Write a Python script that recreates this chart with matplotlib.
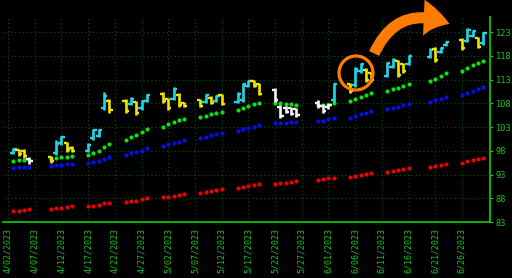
import matplotlib
matplotlib.use('Agg')
import matplotlib.pyplot as plt
import matplotlib.dates as mdates
import matplotlib.patches as mpatches
import numpy as np
import pandas as pd

# Trading days (weekdays minus market holidays)
holidays = ['2023-04-07', '2023-05-29', '2023-06-19']
days = pd.bdate_range('2023-04-03', '2023-06-30')
days = days[~days.isin(pd.to_datetime(holidays))]

# Daily price bars: open, high, low, close and bar colour code
bar_open = [97.6, 98.2, 97.9, 96.3,
            96.6, 97.5, 99.6, 99.6, 98.6,
            98.0, 100.6, 101.2, 107.0, 108.5,
            108.5, 107.8, 108.2, 106.9, 108.5,
            110.0, 108.8, 109.0, 109.8, 108.1,
            108.6, 108.3, 109.2, 108.5, 109.7,
            108.3, 108.7, 111.7, 112.6, 112.0,
            110.8, 107.2, 107.1, 106.9, 106.7,
            108.0, 107.5, 107.2, 108.6,
            112.0, 111.8, 114.7, 115.1, 114.3,
            113.8, 115.7, 116.8, 116.2, 116.3,
            117.8, 119.5, 118.7, 120.3,
            121.4, 121.2, 122.2, 121.7, 120.6]
bar_high = [98.6, 98.4, 98.3, 96.6,
            96.9, 100.3, 101.1, 99.9, 98.9,
            99.6, 102.6, 102.6, 110.4, 109.0,
            108.9, 109.3, 108.5, 108.6, 110.0,
            110.4, 109.1, 111.4, 110.2, 108.3,
            108.9, 110.0, 109.5, 109.7, 110.0,
            110.4, 112.3, 112.9, 112.9, 112.3,
            111.2, 107.6, 107.4, 107.2, 107.0,
            108.7, 107.8, 108.0, 112.3,
            112.3, 115.6, 116.5, 115.4, 114.6,
            116.7, 117.5, 117.1, 116.5, 118.2,
            119.6, 119.8, 119.8, 121.1,
            121.7, 123.8, 123.4, 122.0, 123.0]
bar_low = [97.3, 97.0, 96.5, 95.3,
           95.4, 97.1, 99.2, 97.8, 97.7,
           97.7, 100.3, 101.0, 106.6, 106.0,
           106.0, 107.6, 105.5, 106.6, 108.3,
           108.1, 106.6, 108.7, 107.2, 107.2,
           107.2, 108.0, 107.8, 108.3, 107.6,
           108.0, 108.3, 111.4, 111.4, 109.7,
           108.3, 104.9, 105.9, 105.5, 105.1,
           107.0, 106.0, 106.8, 108.3,
           110.2, 111.4, 114.4, 112.5, 112.5,
           113.5, 115.4, 113.5, 114.4, 116.0,
           117.5, 116.7, 118.5, 120.1,
           119.2, 120.9, 122.0, 119.6, 120.3]
bar_close = [98.3, 97.4, 96.9, 95.8,
             95.8, 99.5, 100.8, 98.2, 97.9,
             99.3, 102.4, 102.4, 109.6, 106.6,
             106.4, 109.0, 106.0, 108.4, 109.8,
             108.4, 107.0, 111.0, 107.6, 107.4,
             107.5, 109.7, 108.1, 109.5, 107.9,
             110.0, 112.0, 112.7, 111.7, 110.0,
             108.6, 105.3, 106.2, 105.8, 105.5,
             107.4, 106.4, 107.6, 112.0,
             110.5, 115.2, 116.2, 112.8, 112.8,
             116.4, 117.2, 113.9, 114.7, 117.9,
             119.3, 117.1, 119.6, 120.9,
             119.6, 123.5, 123.2, 119.9, 122.7]
bar_kind = list('cyyw'
                'yccyy'
                'ccccy'
                'ycycc'
                'yycyy'
                'ycycy'
                'cccyy'
                'wwwww'
                'wwwc'
                'yccyy'
                'ccyyc'
                'cycc'
                'yccyc')

# Moving average style dotted lines
ma_green = [95.9, 96.0, 96.1, 96.1,
            96.3, 96.4, 96.6, 96.7, 96.9,
            97.1, 97.5, 98.0, 98.7, 99.4,
            100.3, 100.9, 101.4, 101.9, 102.6,
            103.1, 103.6, 104.1, 104.4, 104.7,
            105.1, 105.3, 105.7, 105.9, 106.2,
            106.6, 107.0, 107.4, 107.8, 108.1,
            108.1, 108.0, 107.8, 107.8, 107.6,
            107.6, 107.6, 107.7, 108.0,
            108.4, 108.9, 109.3, 109.7, 110.1,
            110.6, 111.0, 111.3, 111.7, 112.1,
            112.6, 113.2, 113.8, 114.4,
            114.8, 115.4, 116.0, 116.4, 116.9]
ma_blue = [94.4, 94.5, 94.6, 94.6,
           94.7, 94.9, 95.1, 95.2, 95.3,
           95.4, 95.6, 95.8, 96.2, 96.7,
           97.1, 97.5, 97.7, 98.0, 98.6,
           99.1, 99.4, 99.7, 99.9, 100.3,
           100.7, 101.0, 101.3, 101.6, 101.8,
           102.2, 102.5, 102.8, 103.1, 103.4,
           103.8, 103.8, 103.8, 104.0, 104.1,
           104.3, 104.3, 104.6, 104.8,
           105.0, 105.4, 105.7, 106.0, 106.3,
           106.7, 107.0, 107.3, 107.6, 107.8,
           108.3, 108.6, 109.0, 109.3,
           109.8, 110.2, 110.6, 111.1, 111.5]
ma_red = [85.3, 85.4, 85.5, 85.7,
          85.7, 85.9, 85.9, 86.2, 86.3,
          86.4, 86.4, 86.6, 86.9, 87.0,
          87.3, 87.4, 87.5, 87.8, 88.0,
          88.2, 88.3, 88.5, 88.7, 88.9,
          89.2, 89.3, 89.5, 89.7, 89.9,
          90.1, 90.3, 90.5, 90.7, 91.0,
          91.1, 91.2, 91.3, 91.5, 91.6,
          91.8, 92.0, 92.2, 92.3,
          92.5, 92.7, 92.9, 93.1, 93.3,
          93.5, 93.7, 93.9, 94.1, 94.4,
          94.5, 94.8, 95.0, 95.2,
          95.5, 95.8, 96.0, 96.2, 96.5]

price_ticks = [83, 88, 93, 98, 103, 108, 113, 118, 123]
date_ticks = pd.date_range('2023-04-02', '2023-06-26', freq='5D')

kind_colors = {'c': '#22d8e8', 'y': '#f2e600', 'w': '#f4f4f4'}
grid_color = '#005800'
axis_green = '#10c010'
label_green = '#18c818'

W, H = 512, 278
fig = plt.figure(figsize=(W / 100, H / 100), dpi=100, facecolor='black')
ax = fig.add_axes([3 / W, 1 - 222 / H, 487 / W, 205 / H], facecolor='black')

x = mdates.date2num(days)

# dotted averages
ax.plot(x, ma_red, 'o', color='#ee0000', markersize=3.0, markeredgewidth=0, zorder=3)
ax.plot(x, ma_blue, 'o', color='#0010f0', markersize=3.0, markeredgewidth=0, zorder=3)
ax.plot(x, ma_green, 'o', color='#10e010', markersize=3.0, markeredgewidth=0, zorder=3)

# price bars
tick_len = 0.6
for xi, o, hi, lo, c, k in zip(x, bar_open, bar_high, bar_low, bar_close, bar_kind):
    col = kind_colors[k]
    ax.vlines(xi, lo, hi, color=col, lw=1.9, zorder=4)
    ax.hlines(o, xi - tick_len, xi, color=col, lw=1.7, zorder=4)
    ax.hlines(c, xi, xi + tick_len, color=col, lw=1.7, zorder=4)

x0 = mdates.date2num(pd.Timestamp('2023-04-02')) - 5 / 5.34
x1 = mdates.date2num(pd.Timestamp('2023-06-26')) + 28 / 5.34
ax.set_xlim(x0, x1)
ax.set_ylim(83, 83 + 205 / 4.75)

ax.set_xticks(mdates.date2num(date_ticks))
ax.set_xticklabels([f"{d.month}/{d.day:02d}/{d.year}" for d in date_ticks],
                   rotation=90, fontsize=6.0, family='DejaVu Sans Mono',
                   color=label_green, va='top')
ax.yaxis.tick_right()
ax.set_yticks(price_ticks)
ax.set_yticklabels([str(v) for v in price_ticks], fontsize=6.2,
                   family='DejaVu Sans Mono', color=label_green)
ax.tick_params(axis='x', length=0, pad=4.0)
ax.tick_params(axis='y', length=2, pad=2, color=axis_green)

ax.grid(True, color=grid_color, linestyle=(0, (1, 2.5)), linewidth=0.8, zorder=0)
ax.set_axisbelow(True)
for side in ['top', 'left']:
    ax.spines[side].set_visible(False)
for side in ['bottom', 'right']:
    ax.spines[side].set_color(axis_green)
    ax.spines[side].set_linewidth(1.3)

# orange highlight circle and arrow
orange = '#ff7c00'
circ = mpatches.Ellipse((356 / W, 1 - 73 / H), 34 / W, 34 / H, transform=fig.transFigure,
                        fill=False, edgecolor=orange, lw=2.3, zorder=6)
fig.patches.append(circ)
arrow = mpatches.FancyArrowPatch((373 / W, 1 - 56 / H), (452 / W, 1 - 25 / H),
                                 transform=fig.transFigure,
                                 connectionstyle='arc3,rad=-0.5',
                                 arrowstyle='simple,head_width=26,head_length=19,tail_width=8',
                                 color=orange, lw=0, zorder=6)
fig.patches.append(arrow)

fig.savefig('out.png', dpi=100, facecolor='black')
